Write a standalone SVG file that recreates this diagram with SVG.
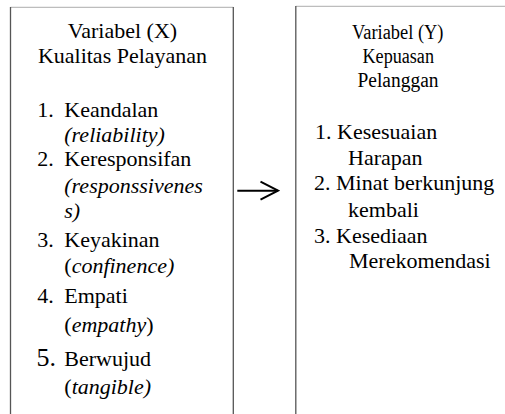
<svg xmlns="http://www.w3.org/2000/svg" width="505" height="414" viewBox="0 0 505 414">
<style>
.t{font-family:"Liberation Serif","Times New Roman",serif;fill:#000;font-size:22px}
.tt{text-anchor:middle}
.rt{font-size:20.5px}
.i{font-style:italic}
.side{stroke:#555;stroke-width:1.3;fill:none}
.top{stroke:#bdbdbd;stroke-width:1.3;fill:none}
.conn{stroke:#000;stroke-width:2;fill:none}
</style>
<defs>
<marker id="ah" markerUnits="userSpaceOnUse" markerWidth="20" markerHeight="22" refX="18" refY="10" orient="auto" viewBox="0 0 20 20">
<path d="M0.5,1 L18,10 L0.5,19" fill="none" stroke="#000" stroke-width="2"/>
</marker>
</defs>
<rect width="505" height="414" fill="#fff"/>
<g id="nodeX">
<path class="top" d="M10.5,7.3 H233.3"/>
<path class="side" d="M10.5,7 V414 M233.3,7 V414"/>
<text class="t tt" x="122.5" y="38">Variabel (X)</text>
<text class="t tt" x="122.5" y="63">Kualitas Pelayanan</text>
<text class="t" y="117"><tspan x="37.3">1.</tspan><tspan x="64.3">Keandalan</tspan></text>
<text class="t i" x="64.3" y="141.5">(reliability)</text>
<text class="t" y="166"><tspan x="37.3">2.</tspan><tspan x="64.3">Keresponsifan</tspan></text>
<text class="t i" x="64.3" y="193">(responssivenes</text>
<text class="t i" x="64.3" y="218">s)</text>
<text class="t" y="246.7"><tspan x="37.3">3.</tspan><tspan x="64.3">Keyakinan</tspan></text>
<text class="t" x="64.3" y="273">(<tspan class="i">confinence)</tspan></text>
<text class="t" y="303"><tspan x="37.3">4.</tspan><tspan x="64.3">Empati</tspan></text>
<text class="t" x="64.3" y="332">(<tspan class="i">empathy</tspan>)</text>
<text class="t" y="366"><tspan x="36.5" font-size="26">5.</tspan><tspan x="64.3">Berwujud</tspan></text>
<text class="t" x="64.3" y="393.5">(<tspan class="i">tangible)</tspan></text>
</g>
<g id="nodeY">
<path class="top" d="M295.8,6.3 H505"/>
<path class="side" d="M295.8,6 V414"/>
<text class="t rt" x="352" y="38.5" textLength="91.5" lengthAdjust="spacingAndGlyphs">Variabel (Y)</text>
<text class="t rt" x="362.5" y="63" textLength="71.5" lengthAdjust="spacingAndGlyphs">Kepuasan</text>
<text class="t rt" x="357.5" y="87" textLength="81" lengthAdjust="spacingAndGlyphs">Pelanggan</text>
<text class="t" x="315" y="139">1. Kesesuaian</text>
<text class="t" x="348" y="165">Harapan</text>
<text class="t" x="314" y="190">2. Minat berkunjung</text>
<text class="t" x="348" y="217">kembali</text>
<text class="t" x="314" y="243">3. Kesediaan</text>
<text class="t" x="349" y="268">Merekomendasi</text>
</g>
<g id="connectors">
<path class="conn" d="M237.3,190.7 H278" marker-end="url(#ah)"/>
</g>
</svg>
